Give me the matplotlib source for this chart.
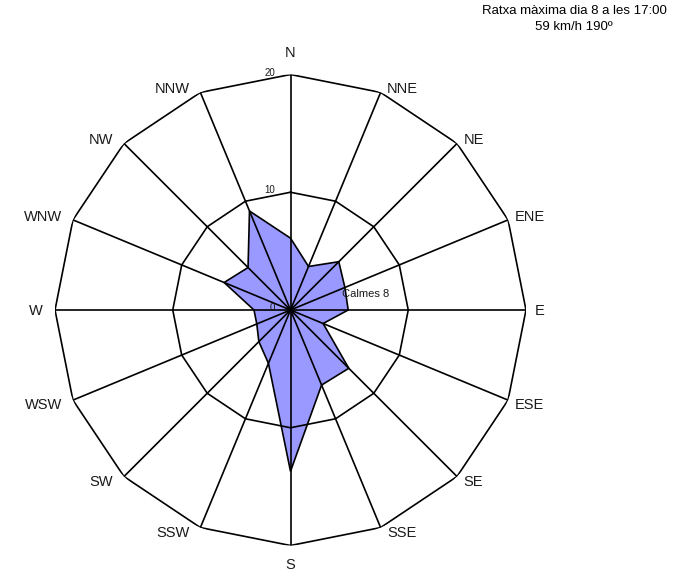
import numpy as np
import matplotlib
matplotlib.use("Agg")
import matplotlib.pyplot as plt

plt.rcParams['font.family'] = ['Liberation Sans', 'DejaVu Sans']

directions = ["N", "NNE", "NE", "ENE", "E", "ESE", "SE", "SSE",
              "S", "SSW", "SW", "WSW", "W", "WNW", "NW", "NNW"]
frequencies = [6.1, 4.0, 5.8, 5.0, 4.9, 3.0, 7.0, 6.9,
               13.7, 4.9, 3.8, 3.1, 3.1, 6.1, 5.1, 9.1]
ring_values = [0, 10, 20]
calms = 8
title_lines = ["Ratxa màxima dia 8 a les 17:00", "59 km/h 190º"]

W, H = 684, 577
PX = 72.0 / 100.0  # points per pixel
fig = plt.figure(figsize=(W / 100, H / 100), dpi=100)
cx, cy, R = 290.5, 310.0, 235.5
ax = fig.add_axes([(cx - R) / W, (H - cy - R) / H, 2 * R / W, 2 * R / H],
                  projection='polar')
ax.set_theta_zero_location('N')
ax.set_theta_direction(-1)
ax.set_ylim(0, max(ring_values))
ax.grid(False)
ax.set_xticks([])
ax.set_yticks([])
ax.spines['polar'].set_visible(False)
ax.patch.set_visible(False)

n = len(directions)
theta = np.deg2rad(np.arange(n) * 360.0 / n)
theta_closed = np.append(theta, theta[0])

vals = np.array(frequencies)
ax.fill(theta_closed, np.append(vals, vals[0]), facecolor='#9999ff',
        edgecolor='black', linewidth=1.2, zorder=2)

lw = 1.2
for t in theta:
    ax.plot([t, t], [0, ring_values[-1]], color='black', lw=lw, zorder=3)
for rv in ring_values[1:]:
    ax.plot(theta_closed, [rv] * (n + 1), color='black', lw=lw, zorder=3)

rmax = ring_values[-1]
for t, lab in zip(theta, directions):
    s, c = np.sin(t), np.cos(t)
    if abs(s) < 1e-6:
        # N / S
        dy = 21.5 if c > 0 else -19.5
        ax.annotate(lab, xy=(t, rmax), xytext=(0, dy * PX), textcoords='offset points',
                    ha='center', va='center', fontsize=10.5, color='#1a1a1a',
                    annotation_clip=False)
    elif abs(c) < 1e-6:
        dx = 9 if s > 0 else -12
        ax.annotate(lab, xy=(t, rmax), xytext=(dx * PX, -1 * PX), textcoords='offset points',
                    ha='left' if s > 0 else 'right', va='center', fontsize=10.5,
                    color='#1a1a1a', annotation_clip=False)
    else:
        dx = 6.5 if s > 0 else -11
        if c > 0:
            dy = -1.0  # baseline slightly below vertex
        else:
            dy = -9.0  # cap top slightly below vertex
        ax.annotate(lab, xy=(t, rmax), xytext=(dx * PX, dy * PX), textcoords='offset points',
                    ha='left' if s > 0 else 'right', va='baseline', fontsize=10.5,
                    color='#1a1a1a', annotation_clip=False)

for rv in ring_values:
    ax.annotate(str(rv), xy=(0, rv), xytext=(-15 * PX, -1 * PX), textcoords='offset points',
                ha='right', va='baseline', fontsize=7, color='#1a1a1a', zorder=4)

ax.annotate(f"Calmes {calms}", xy=(0, 0), xytext=(51 * PX, 12.7 * PX),
            textcoords='offset points', ha='left', va='baseline', fontsize=8,
            color='#1a1a1a', zorder=4)

fig.text(574 / W, 1 - 11 / H, title_lines[0], ha='center', va='center', fontsize=9.5)
fig.text(574 / W, 1 - 26.5 / H, title_lines[1], ha='center', va='center', fontsize=9.5)

fig.savefig("out.png", dpi=100)
